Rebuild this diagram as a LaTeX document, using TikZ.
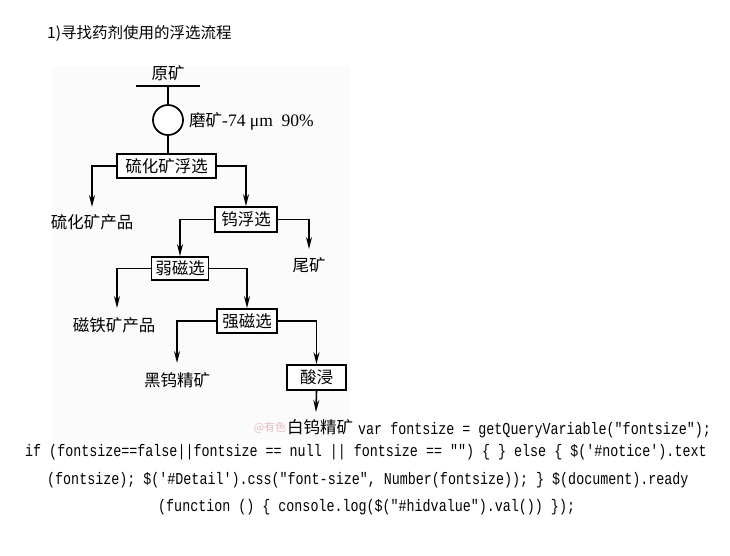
\documentclass[tikz,border=0pt]{standalone}
\usepackage{fontspec}
\setmainfont{Liberation Serif}
\newfontfamily\cjk{Noto Sans CJK SC}
\newfontfamily\codefont[FakeStretch=0.8]{Liberation Mono}
\usetikzlibrary{arrows.meta,calc}
\begin{document}
\begin{tikzpicture}[x=1pt,y=-1pt,
  box/.style={draw,line width=1.7pt,fill=white,inner sep=0pt,font=\cjk\fontsize{16.5}{17}\selectfont},
  lbl/.style={inner sep=0pt,font=\cjk\fontsize{16.5}{17}\selectfont},
  flow/.style={line width=1.6pt,-{Stealth[length=12pt,width=6pt]}},
  plainline/.style={line width=1.6pt},
  code/.style={anchor=west,inner sep=0pt,font=\codefont\fontsize{16.7}{18}\selectfont}]
\useasboundingbox (0,0) rectangle (730,555);
\fill[white] (0,0) rectangle (730,555);
\fill[black!1.5] (52,66) rectangle (350,440);

% title
\node[anchor=west,inner sep=0pt,font=\cjk\fontsize{15.5}{16}\selectfont] (title) at (47,33) {1)寻找药剂使用的浮选流程};

% raw ore
\node[lbl] (raw) at (168,73) {原矿};
\coordinate (tl) at (136,86);
\coordinate (tr) at (200,86);
\coordinate (tm) at (168,86);
\draw[plainline] (tl) -- (tr);
\node[draw,circle,line width=1.7pt,minimum size=30pt,inner sep=0pt,fill=white] (mill) at (168,120) {};
\node[anchor=west,inner sep=0pt,font=\fontsize{17.5}{19}\selectfont] (milllbl) at (189,121) {{\cjk\fontsize{16.5}{17}\selectfont 磨矿}-74 μm\ \ 90\%};
\draw[plainline] (tm) -- (mill.north);

% boxes
\node[box,minimum width=99pt,minimum height=24pt] (b1) at (166.5,166) {硫化矿浮选};
\node[box,minimum width=62pt,minimum height=25pt] (b2) at (246,219.5) {钨浮选};
\node[box,minimum width=57pt,minimum height=23pt] (b3) at (180,268.5) {弱磁选};
\node[box,minimum width=60pt,minimum height=24pt] (b4) at (247,321) {强磁选};
\node[box,minimum width=59pt,minimum height=25pt] (b5) at (316.5,377.5) {酸浸};

\draw[plainline] (mill.south) -- (mill.south |- b1.north);

% products
\node[lbl] (p1) at (92,222) {硫化矿产品};
\node[lbl] (tail) at (309,265) {尾矿};
\node[lbl] (p2) at (114,325) {磁铁矿产品};
\node[lbl] (p3) at (177,380) {黑钨精矿};
\node[inner sep=0pt,text=red!70!black,opacity=0.25,font=\cjk\fontsize{11}{12}\selectfont] (wm) at (270,428) {@有色};
\node[lbl] (p4) at (320,427) {白钨精矿};

\coordinate (a1) at (92,207);
\coordinate (a2) at (309,249);
\coordinate (a3) at (117,308);
\coordinate (a4) at (177,363);
\coordinate (a5) at (316,412);

\draw[flow] (b1.west) -| (a1);
\draw[flow] (b1.east) -| (b2.north);
\draw[flow] (b2.west) -| (b3.north);
\draw[flow] (b2.east) -| (a2);
\draw[flow] (b3.west) -| (a3);
\draw[flow] (b3.east) -| (b4.north);
\draw[flow] (b4.west) -| (a4);
\draw[flow] (b4.east) -| (b5.north);
\draw[flow] (b5.south) -- (a5);

% code text
\node[code] (c1) at (358,430) {var fontsize = getQueryVariable("fontsize");};
\node[code] (c2) at (25,452) {if (fontsize==false||fontsize == null || fontsize == "") \{ \} else \{ \$('\#notice').text};
\node[code] (c3) at (47,480) {(fontsize); \$('\#Detail').css("font-size", Number(fontsize)); \} \$(document).ready};
\node[code] (c4) at (158,507) {(function () \{ console.log(\$("\#hidvalue").val()) \});};
\end{tikzpicture}
\end{document}
